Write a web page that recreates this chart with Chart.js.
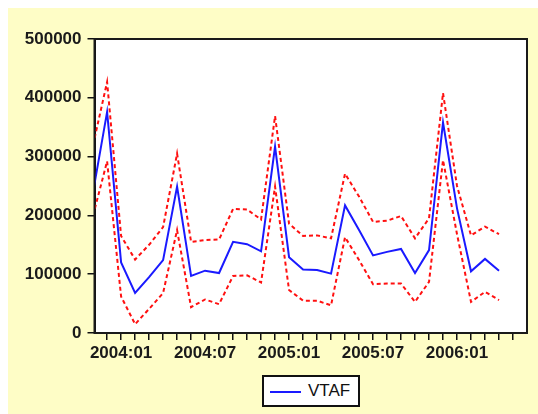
<!DOCTYPE html>
<html>
<head>
<meta charset="utf-8">
<title>VTAF forecast</title>
<script src="https://cdn.jsdelivr.net/npm/chart.js@4.4.1/dist/chart.umd.min.js"></script>
<style>
  html, body { margin: 0; padding: 0; background: #ffffff; }
  #wrap { position: absolute; left: 8px; top: 8px; width: 530px; height: 406px; background: #fefdc6; }
  #chart { position: absolute; left: 0; top: 0; }
  #legend { position: absolute; left: 254px; top: 367px; width: 94px; height: 28px;
            border: 2px solid #111; background: #ffffff;
            font: 17px "Liberation Sans", Arial, sans-serif; color: #111; }
  #legend .swatch { position: absolute; left: 6px; top: 14px; width: 31px; height: 2px; background: #1a1aff; }
  #legend .name { position: absolute; left: 44px; top: 5px; line-height: 18px; }
</style>
</head>
<body>
<div id="wrap">
  <canvas id="chart" width="530" height="406"></canvas>
  <div id="legend"><span class="swatch"></span><span class="name">VTAF</span></div>
</div>
<script>
(function () {
  'use strict';

  // monthly sample, 2003:11 .. 2006:04
  var months = [
    '2003:11', '2003:12',
    '2004:01', '2004:02', '2004:03', '2004:04', '2004:05', '2004:06',
    '2004:07', '2004:08', '2004:09', '2004:10', '2004:11', '2004:12',
    '2005:01', '2005:02', '2005:03', '2005:04', '2005:05', '2005:06',
    '2005:07', '2005:08', '2005:09', '2005:10', '2005:11', '2005:12',
    '2006:01', '2006:02', '2006:03', '2006:04'
  ];
  var labeledMonths = ['2004:01', '2004:07', '2005:01', '2005:07', '2006:01'];

  // forecast
  var vtaf = [
    240000, 376000,
    120000, 68000, 95000, 124000, 249000, 97000,
    106000, 102000, 155000, 151000, 139000, 317000,
    129000, 108000, 107000, 101000, 217000, 175000,
    132000, 138000, 143000, 102000, 141000, 358000,
    212000, 105000, 126000, 106000
  ];
  // +/- 2 S.E. bands
  var upper = [
    320000, 427000,
    165000, 125000, 150000, 180000, 305000, 155000,
    158000, 159000, 211000, 210000, 193000, 369000,
    186000, 165000, 166000, 161000, 271000, 232000,
    189000, 191000, 199000, 161000, 195000, 408000,
    250000, 166000, 181000, 168000
  ];
  var lower = [
    200000, 292000,
    62000, 15000, 41000, 68000, 175000, 44000,
    57000, 49000, 97000, 98000, 86000, 249000,
    73000, 55000, 55000, 47000, 163000, 124000,
    83000, 84000, 84000, 53000, 87000, 294000,
    168000, 53000, 70000, 56000
  ];

  var toPoints = function (values) {
    return values.map(function (v, i) { return { x: i, y: v }; });
  };

  var tickFont = { family: '"Liberation Sans", Arial, sans-serif', size: 17, weight: 'bold' };

  // white plot area + closed black frame, like the EViews graph
  var plotFrame = {
    id: 'plotFrame',
    beforeDraw: function (chart) {
      var a = chart.chartArea, ctx = chart.ctx;
      ctx.save();
      ctx.fillStyle = '#ffffff';
      ctx.fillRect(a.left, a.top, a.right - a.left, a.bottom - a.top);
      ctx.restore();
    },
    afterDraw: function (chart) {
      var a = chart.chartArea, ctx = chart.ctx;
      ctx.save();
      ctx.strokeStyle = '#1a1a1a';
      ctx.lineWidth = 2;
      ctx.strokeRect(a.left, a.top, a.right - a.left, a.bottom - a.top);
      ctx.restore();
    }
  };

  var config = {
    type: 'line',
    data: {
      datasets: [
        { label: 'VTAF', data: toPoints(vtaf), borderColor: '#1a1aff', borderWidth: 2,
          pointRadius: 0, tension: 0, fill: false },
        { label: 'upper', data: toPoints(upper), borderColor: '#ff1010', borderWidth: 2,
          borderDash: [4, 3], pointRadius: 0, tension: 0, fill: false },
        { label: 'lower', data: toPoints(lower), borderColor: '#ff1010', borderWidth: 2,
          borderDash: [4, 3], pointRadius: 0, tension: 0, fill: false }
      ]
    },
    options: {
      responsive: false,
      animation: false,
      devicePixelRatio: 1,
      layout: { padding: { top: 31, right: 11, left: 0, bottom: 0 } },
      plugins: { legend: { display: false }, tooltip: { enabled: false } },
      scales: {
        x: {
          type: 'linear',
          min: 0.1,
          max: 31,
          afterFit: function (s) { s.height = 81; },
          afterBuildTicks: function (s) {
            var t = [];
            for (var i = 1; i <= 30; i++) t.push({ value: i });
            s.ticks = t;
          },
          grid: { drawOnChartArea: false, drawTicks: true, tickLength: 7, color: '#111', lineWidth: 1.5 },
          border: { display: true, color: '#111', width: 2 },
          ticks: {
            autoSkip: false, maxRotation: 0, padding: 3, color: '#1a1a1a', font: tickFont,
            callback: function (value) {
              var m = months[value];
              return labeledMonths.indexOf(m) >= 0 ? m : '';
            }
          }
        },
        y: {
          min: 0,
          max: 500000,
          afterFit: function (s) { s.width = 86.5; },
          grid: { drawOnChartArea: false, drawTicks: true, tickLength: 7, color: '#111', lineWidth: 1.5 },
          border: { display: true, color: '#111', width: 2 },
          ticks: {
            stepSize: 100000, padding: 6, color: '#1a1a1a', font: tickFont,
            callback: function (value) { return String(value); }
          }
        }
      }
    },
    plugins: [plotFrame]
  };

  var ctx = document.getElementById('chart').getContext('2d');
  window.vtafChart = new Chart(ctx, config);
})();
</script>
</body>
</html>
